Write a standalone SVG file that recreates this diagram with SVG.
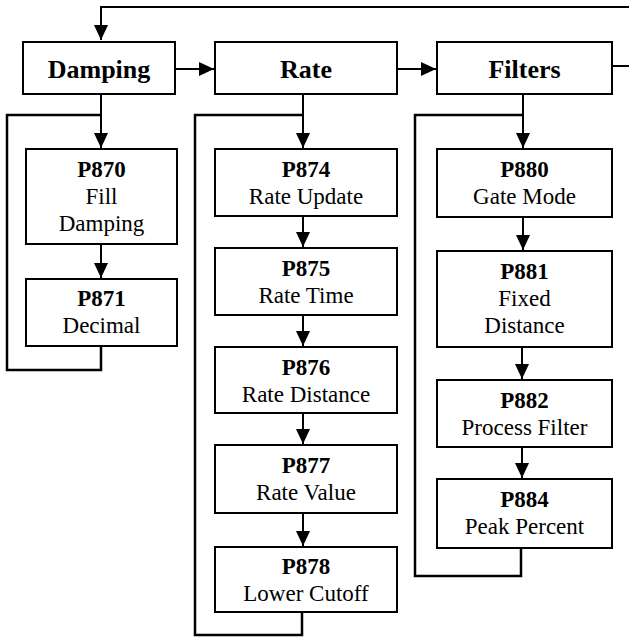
<svg xmlns="http://www.w3.org/2000/svg" width="629" height="638" viewBox="0 0 629 638">
<style>
rect{fill:#fff;stroke:#000;stroke-width:2}
.c line,.c polyline{stroke:#000;stroke-width:2;fill:none}
.c .loop{stroke-width:2.5}
text{font-family:"Liberation Serif","Times New Roman",serif;fill:#000;text-anchor:middle}
.h{font-size:26px;font-weight:bold}
.b{font-size:23px;font-weight:bold}
.r{font-size:23px}
</style>
<defs>
<marker id="ah" markerUnits="userSpaceOnUse" markerWidth="15" markerHeight="14" refX="15" refY="7" orient="auto" viewBox="0 0 15 14">
<path d="M0,0 L15,7 L0,14 z" fill="#000"/>
</marker>
</defs>
<g id="connectors" class="c">
<polyline points="629,7 101,7 101,40" marker-end="url(#ah)"/>
<line x1="175" y1="69" x2="214" y2="69" marker-end="url(#ah)"/>
<line x1="397" y1="69" x2="436" y2="69" marker-end="url(#ah)"/>
<line x1="612" y1="66" x2="629" y2="66"/>
<line x1="101" y1="94" x2="101" y2="148" marker-end="url(#ah)"/>
<line x1="101" y1="244" x2="101" y2="278" marker-end="url(#ah)"/>
<polyline class="loop" points="101,115 7,115 7,370 101,370 101,346"/>
<line x1="303" y1="94" x2="303" y2="148" marker-end="url(#ah)"/>
<line x1="303" y1="216" x2="303" y2="247" marker-end="url(#ah)"/>
<line x1="303" y1="315" x2="303" y2="346" marker-end="url(#ah)"/>
<line x1="303" y1="413" x2="303" y2="444" marker-end="url(#ah)"/>
<line x1="303" y1="513" x2="303" y2="546" marker-end="url(#ah)"/>
<polyline class="loop" points="303,115 195,115 195,635 302,635 302,612"/>
<line x1="523" y1="94" x2="523" y2="148" marker-end="url(#ah)"/>
<line x1="523" y1="217" x2="523" y2="250" marker-end="url(#ah)"/>
<line x1="522" y1="347" x2="522" y2="379" marker-end="url(#ah)"/>
<line x1="522" y1="447" x2="522" y2="478" marker-end="url(#ah)"/>
<polyline class="loop" points="523,115 415,115 415,576 521,576 521,548"/>
</g>
<g id="damping"><rect x="23" y="42" width="152" height="52"/><text class="h" x="99" y="78">Damping</text></g>
<g id="rate"><rect x="215" y="42" width="182" height="52"/><text class="h" x="306" y="78">Rate</text></g>
<g id="filters"><rect x="437" y="42" width="175" height="52"/><text class="h" x="524.5" y="78">Filters</text></g>
<g id="p870"><rect x="26" y="149" width="151" height="95"/><text class="b" x="101.5" y="177">P870</text><text class="r" x="101.5" y="204">Fill</text><text class="r" x="101.5" y="231">Damping</text></g>
<g id="p871"><rect x="26" y="279" width="151" height="67"/><text class="b" x="101.5" y="306">P871</text><text class="r" x="101.5" y="333">Decimal</text></g>
<g id="p874"><rect x="215" y="149" width="182" height="67"/><text class="b" x="306" y="177">P874</text><text class="r" x="306" y="204">Rate Update</text></g>
<g id="p875"><rect x="215" y="248" width="182" height="67"/><text class="b" x="306" y="276">P875</text><text class="r" x="306" y="303">Rate Time</text></g>
<g id="p876"><rect x="215" y="347" width="182" height="66"/><text class="b" x="306" y="375">P876</text><text class="r" x="306" y="402">Rate Distance</text></g>
<g id="p877"><rect x="215" y="445" width="182" height="68"/><text class="b" x="306" y="473">P877</text><text class="r" x="306" y="500">Rate Value</text></g>
<g id="p878"><rect x="215" y="547" width="182" height="65"/><text class="b" x="306" y="574">P878</text><text class="r" x="306" y="601">Lower Cutoff</text></g>
<g id="p880"><rect x="437" y="149" width="175" height="68"/><text class="b" x="524.5" y="177">P880</text><text class="r" x="524.5" y="204">Gate Mode</text></g>
<g id="p881"><rect x="437" y="251" width="175" height="96"/><text class="b" x="524.5" y="279">P881</text><text class="r" x="524.5" y="306">Fixed</text><text class="r" x="524.5" y="333">Distance</text></g>
<g id="p882"><rect x="437" y="380" width="175" height="67"/><text class="b" x="524.5" y="408">P882</text><text class="r" x="524.5" y="435">Process Filter</text></g>
<g id="p884"><rect x="437" y="479" width="175" height="69"/><text class="b" x="524.5" y="507">P884</text><text class="r" x="524.5" y="534">Peak Percent</text></g>
</svg>
